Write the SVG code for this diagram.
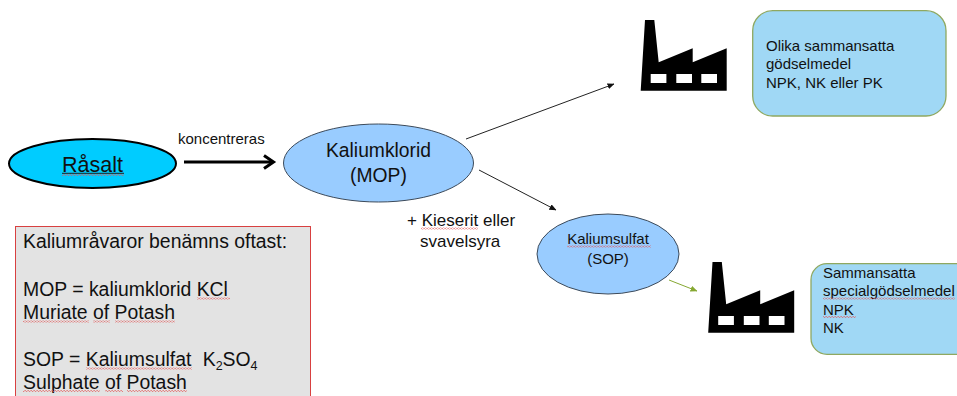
<svg xmlns="http://www.w3.org/2000/svg" width="957" height="396" viewBox="0 0 957 396">
<style>
text{font-family:"Liberation Sans",Arial,sans-serif;fill:#111}
.ell{fill:#99ccff;stroke:#3c4a5a;stroke-width:1}
.box{fill:#a0d8f5;stroke:#8fa860;stroke-width:1.3}
.f19{font-size:19.4px}.f15{font-size:15px}.f17{font-size:17px}
.win{fill:#fff}
.sq{fill:url(#wave);height:2px}
</style>
<defs>
<pattern id="wave" width="3" height="2" patternUnits="userSpaceOnUse"><path d="M0,1.5L0.75,0.5L1.5,0.5L2.25,1.5L3,1.5" fill="none" stroke="#e25a5a" stroke-width="0.8"/></pattern>
<marker id="ah" markerWidth="7" markerHeight="6" refX="6.5" refY="3" orient="auto" markerUnits="userSpaceOnUse"><path d="M0,0L7,3L0,6Z" fill="#111"/></marker>
<marker id="ahg" markerWidth="7" markerHeight="6" refX="6.5" refY="3" orient="auto" markerUnits="userSpaceOnUse"><path d="M0,0L7,3L0,6Z" fill="#86a832"/></marker>
<g id="factory-shape"><path d="M645,20H654.3L658.7,62.3L692.7,48.3V62.3L726.7,48.3V90.7H640.7Z" fill="#000"/><rect class="win" x="650.7" y="74" width="15.7" height="9"/><rect class="win" x="676.3" y="74" width="15.7" height="9"/><rect class="win" x="701.3" y="74" width="15.7" height="9"/></g>
</defs>
<g id="connectors" fill="none">
<path d="M184,162H272" stroke="#000" stroke-width="3"/>
<path d="M264,155.5L273.5,162L264,168.5" stroke="#000" stroke-width="3"/>
<path d="M466,139L614,84" stroke="#222" stroke-width="1" marker-end="url(#ah)"/>
<path d="M479,170L556,210" stroke="#222" stroke-width="1" marker-end="url(#ah)"/>
<path d="M669,280L697,291" stroke="#86a832" stroke-width="1" marker-end="url(#ahg)"/>
</g>
<g id="rasalt"><ellipse cx="92.5" cy="163.5" rx="83.5" ry="24.5" fill="#00ccff" stroke="#000" stroke-width="2"/><text x="92.5" y="171.5" font-size="21.5" text-anchor="middle">Råsalt</text><rect x="62" y="172.8" width="62" height="1" fill="#222"/><rect class="sq" x="62" y="174" width="62"/></g>
<text id="label-koncentreras" x="178" y="144" font-size="15">koncentreras</text>
<g id="kaliumklorid"><ellipse class="ell" cx="378.5" cy="163" rx="95" ry="39"/><text font-size="19.3" x="378.5" y="157" text-anchor="middle">Kaliumklorid</text><text font-size="19.3" x="378.5" y="181.5" text-anchor="middle">(MOP)</text></g>
<g id="label-kieserit"><text class="f17" x="407" y="226">+ Kieserit eller</text><text class="f17" x="420" y="247">svavelsyra</text><rect class="sq" x="421" y="227.5" width="57"/></g>
<g id="info-box"><rect x="15.5" y="226.5" width="295" height="175" fill="#e3e3e3" stroke="#d84040" stroke-width="1"/>
<text class="f19" x="23" y="248">Kaliumråvaror benämns oftast:</text>
<text class="f19" x="23" y="295.5">MOP = kaliumklorid KCl</text>
<text class="f19" x="23" y="319">Muriate of Potash</text>
<text class="f19" x="23" y="366">SOP = Kaliumsulfat</text>
<text class="f19" x="202.7" y="366">K<tspan font-size="12.5" dy="4">2</tspan><tspan dy="-4">SO</tspan><tspan font-size="12.5" dy="4">4</tspan></text>
<text class="f19" x="23" y="389">Sulphate of Potash</text>
<rect class="sq" x="197" y="297.5" width="33"/>
<rect class="sq" x="23" y="320.5" width="66"/><rect class="sq" x="93" y="320.5" width="17"/><rect class="sq" x="115" y="320.5" width="60"/>
<rect class="sq" x="86" y="367.5" width="106"/>
<rect class="sq" x="23" y="390" width="77"/><rect class="sq" x="105" y="390" width="18"/><rect class="sq" x="127" y="390" width="60"/></g>
<g id="kaliumsulfat"><ellipse class="ell" cx="608" cy="254" rx="71" ry="40"/><text x="608" y="244" font-size="15" text-anchor="middle">Kaliumsulfat</text><text x="608" y="264" font-size="15" text-anchor="middle">(SOP)</text><rect class="sq" x="567" y="245.5" width="84"/></g>
<g id="factory-1"><use href="#factory-shape"/></g>
<g id="factory-2"><use href="#factory-shape" x="67.5" y="242"/></g>
<g id="box-olika"><rect class="box" x="752.7" y="10.7" width="193.3" height="105.3" rx="20"/><text class="f15" x="766" y="50.5">Olika sammansatta</text><text class="f15" x="766" y="69">gödselmedel</text><text class="f15" x="766" y="87.5">NPK, NK eller PK</text></g>
<g id="box-special"><rect class="box" x="811" y="263.7" width="170" height="90.6" rx="16"/><text class="f15" x="823" y="277.5">Sammansatta</text><text class="f15" x="823" y="296">specialgödselmedel</text><text class="f15" x="823" y="314.5">NPK</text><text class="f15" x="823" y="333">NK</text><rect class="sq" x="823" y="297.5" width="132"/><rect class="sq" x="823" y="316" width="33"/></g>
</svg>
